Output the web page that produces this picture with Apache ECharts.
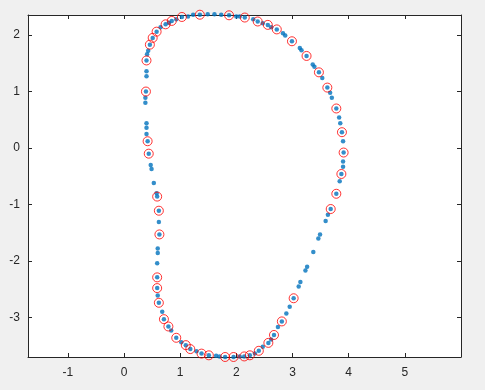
<!DOCTYPE html>
<html>
<head>
<meta charset="utf-8">
<script src="https://cdn.jsdelivr.net/npm/echarts@6/dist/echarts.min.js"></script>
<style>
html,body{margin:0;padding:0;background:#f0f0f0;}
#c{width:485px;height:390px;}
</style>
</head>
<body>
<div id="c"></div>
<script>
// Blue dot samples along the closed curve (x, y)
const blueX = [0.39,0.40,0.46,0.51,0.58,0.74,0.85,1.03,1.35,1.87,2.15,2.38,2.56,2.72,2.99,3.25,3.47,3.62,3.78,3.88,3.91,3.87,3.78,3.68,3.02,2.81,2.67,2.57,2.40,2.24,2.14,1.95,1.80,1.51,1.38,1.18,1.10,0.93,0.79,0.71,0.62,0.59,0.59,0.63,0.62,0.59,0.44,0.42,
  0.41,0.43,0.40,0.40,0.38,0.38,0.40,0.40,0.40,0.475,0.49,0.53,0.58,0.62,0.60,0.60,0.59,0.60,0.68,
  0.84,1.02,1.29,1.64,1.70,2.06,2.33,2.47,2.62,2.74,2.89,2.95,
  3.11,3.14,3.23,3.26,3.37,3.46,3.49,3.59,3.63,
  3.84,3.90,3.90,3.90,3.83,3.85,3.67,3.70,3.53,3.36,3.39,3.13,3.16,2.83,2.87,2.62,2.47,2.30,
  2.00,2.06,1.73,1.61,1.49,1.23,1.14,0.93,0.65,0.80];
const blueY = [1.00,1.55,1.83,1.95,2.06,2.19,2.25,2.32,2.36,2.35,2.31,2.24,2.18,2.10,1.89,1.63,1.34,1.07,0.70,0.28,-0.08,-0.46,-0.81,-1.08,-2.66,-3.07,-3.31,-3.45,-3.59,-3.67,-3.69,-3.70,-3.70,-3.67,-3.64,-3.56,-3.49,-3.36,-3.16,-3.03,-2.74,-2.48,-2.29,-1.53,-1.11,-0.86,-0.10,0.12,
  1.66,1.72,1.36,1.27,0.89,0.80,0.44,0.36,0.25,-0.30,-0.37,-0.62,-0.80,-1.31,-1.78,-1.86,-2.04,-2.61,-2.90,
  -3.23,-3.44,-3.60,-3.68,-3.69,-3.69,-3.64,-3.52,-3.39,-3.17,-2.93,-2.81,
  -2.45,-2.37,-2.17,-2.10,-1.84,-1.60,-1.53,-1.29,-1.18,
  -0.59,-0.24,-0.33,0.12,0.54,0.44,0.98,0.89,1.24,1.48,1.44,1.77,1.73,2.03,1.99,2.14,2.21,2.28,
  2.33,2.33,2.36,2.37,2.37,2.36,2.33,2.28,2.14,2.22];
// Red circled samples (x, y)
const redX = [0.39,0.40,0.46,0.51,0.58,0.74,0.85,1.03,1.35,1.87,2.15,2.38,2.56,2.72,2.99,3.25,3.47,3.62,3.78,3.88,3.91,3.87,3.78,3.68,3.02,2.81,2.67,2.57,2.40,2.24,2.14,1.95,1.80,1.51,1.38,1.18,1.10,0.93,0.79,0.71,0.62,0.59,0.59,0.63,0.62,0.59,0.44,0.42];
const redY = [1.00,1.55,1.83,1.95,2.06,2.19,2.25,2.32,2.36,2.35,2.31,2.24,2.18,2.10,1.89,1.63,1.34,1.07,0.70,0.28,-0.08,-0.46,-0.81,-1.08,-2.66,-3.07,-3.31,-3.45,-3.59,-3.67,-3.69,-3.70,-3.70,-3.67,-3.64,-3.56,-3.49,-3.36,-3.16,-3.03,-2.74,-2.48,-2.29,-1.53,-1.11,-0.86,-0.10,0.12];
const xTicks = [-1,0,1,2,3,4,5];
const yTicks = [-3,-2,-1,0,1,2];

const blueData = blueX.map((x,i)=>[x,blueY[i]]);
const redData = redX.map((x,i)=>[x,redY[i]]);

const axCol = '#262626';
const font = {fontFamily:'Liberation Sans, Arial, sans-serif', fontSize:12, color:axCol};
function xAx(pos, labels){
  return {type:'value', position:pos, min:-1.71, max:6,
    axisLine:{show:true, onZero:false, lineStyle:{color:axCol,width:1}},
    axisTick:{show:true, inside:true, length:4, customValues:xTicks, lineStyle:{color:axCol}},
    axisLabel:Object.assign({show:labels, margin:10, customValues:xTicks}, font),
    splitLine:{show:false}};
}
function yAx(pos, labels){
  return {type:'value', position:pos, min:-3.70, max:2.355,
    axisLine:{show:true, onZero:false, lineStyle:{color:axCol,width:1}},
    axisTick:{show:true, inside:true, length:4, customValues:yTicks, lineStyle:{color:axCol}},
    axisLabel:Object.assign({show:labels, margin:8, customValues:yTicks}, font),
    splitLine:{show:false}};
}
const chart = echarts.init(document.getElementById('c'), null, {renderer:'canvas'});
chart.setOption({
  animation:false,
  backgroundColor:'#f0f0f0',
  grid:{left:28, top:15, right:24, bottom:33, show:true, backgroundColor:'#ffffff', borderWidth:0},
  xAxis:[xAx('bottom',true), xAx('top',false)],
  yAxis:[yAx('left',true), yAx('right',false)],
  series:[
    {type:'scatter', data:blueData, symbol:'circle', symbolSize:4.5, clip:false,
     itemStyle:{color:'#0072BD'}},
    {type:'scatter', data:redData, symbol:'circle', symbolSize:9, clip:false,
     itemStyle:{color:'rgba(0,0,0,0)', borderColor:'#ff0000', borderWidth:1}}
  ]
});
</script>
</body>
</html>
